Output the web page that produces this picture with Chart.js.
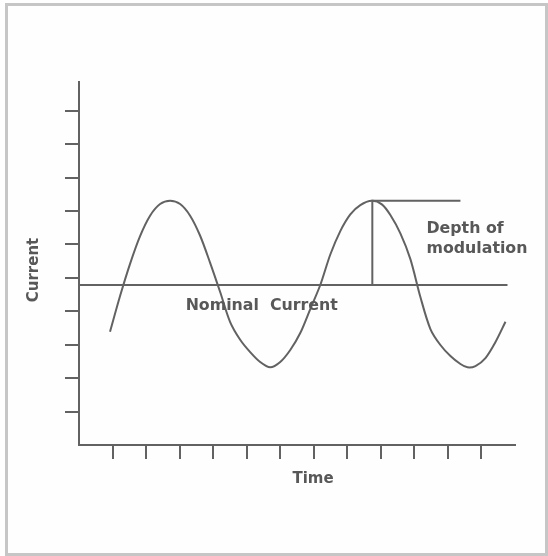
<!DOCTYPE html>
<html>
<head>
<meta charset="utf-8">
<script src="https://cdn.jsdelivr.net/npm/chart.js@4.4.1/dist/chart.umd.min.js"></script>
<style>
  html, body { margin: 0; padding: 0; background: #fefefe; }
  #frame { position: absolute; left: 5px; top: 3px; width: 543px; height: 553px;
           border: 3px solid #c6c6c6; box-sizing: border-box; background: #fefefe; }
  #wrap { position: absolute; left: 0; top: 0; width: 548px; height: 556px; }
</style>
</head>
<body>
<div id="frame"></div>
<div id="wrap"><canvas id="c" width="548" height="556"></canvas></div>
<script>
// ---- data (in axis units) ----
const xTickValues = [1, 2, 3, 4, 5, 6, 7, 8, 9, 10, 11, 12];
const yTickValues = [1, 2, 3, 4, 5, 6, 7, 8, 9, 10];
const waveX = [0.925, 1.224, 1.522, 1.821, 2.119, 2.418, 2.716, 3.015, 3.313, 3.612, 3.910, 4.209,
               4.507, 4.806, 5.104, 5.403, 5.701, 6.000, 6.299, 6.597, 6.896, 7.194,
               7.493, 7.791, 8.090, 8.388, 8.735, 9.030, 9.284, 9.582, 9.881, 10.179,
               10.478, 10.776, 11.075, 11.373, 11.582, 11.821, 12.119, 12.418, 12.716];
const waveY = [3.389, 4.457, 5.420, 6.250, 6.860, 7.209, 7.308, 7.209, 6.860, 6.260, 5.450, 4.577,
               3.679, 3.150, 2.780, 2.483, 2.324, 2.483, 2.842, 3.350, 4.068, 4.786,
               5.700, 6.400, 6.900, 7.179, 7.308, 7.200, 6.880, 6.330, 5.560, 4.427,
               3.470, 2.991, 2.662, 2.423, 2.324, 2.363, 2.602, 3.081, 3.688];
const nominalX = [0, 12.776];
const nominalY = [4.79, 4.79];
const depthX = [11.373, 8.746, 8.746];
const depthY = [7.31, 7.31, 4.79];
const xAxisTitle = 'Time';
const yAxisTitle = 'Current';
const nominalLabel = 'Nominal  Current';
const depthLabel = ['Depth of', 'modulation'];

const LINE = '#626262';
const TEXT = '#585858';

function pts(xs, ys) { return xs.map((x, i) => ({x: x, y: ys[i]})); }

const textPlugin = {
  id: 'texts',
  afterDraw(chart) {
    const ctx = chart.ctx;
    const xs = chart.scales.x, ys = chart.scales.y;
    ctx.save();
    ctx.fillStyle = TEXT;
    ctx.textBaseline = 'alphabetic';
    ctx.font = 'bold 15.8px "DejaVu Sans"';
    ctx.textAlign = 'left';
    ctx.fillText(nominalLabel, xs.getPixelForValue(3.18), ys.getPixelForValue(4.04));
    ctx.fillText(depthLabel[0], xs.getPixelForValue(10.36), ys.getPixelForValue(6.34));
    ctx.fillText(depthLabel[1], xs.getPixelForValue(10.36), ys.getPixelForValue(5.75));
    ctx.font = 'bold 15px "DejaVu Sans"';
    ctx.textAlign = 'center';
    ctx.fillText(xAxisTitle, 313, 483);
    ctx.translate(38, 270);
    ctx.rotate(-Math.PI / 2);
    ctx.fillText(yAxisTitle, 0, 0);
    ctx.restore();
  }
};

new Chart(document.getElementById('c'), {
  type: 'line',
  data: {
    datasets: [
      { data: pts(waveX, waveY), borderColor: LINE, borderWidth: 2, pointRadius: 0, tension: 0.3, fill: false },
      { data: pts(nominalX, nominalY), borderColor: LINE, borderWidth: 2, pointRadius: 0, tension: 0, fill: false },
      { data: pts(depthX, depthY), borderColor: LINE, borderWidth: 2, pointRadius: 0, tension: 0, fill: false }
    ]
  },
  options: {
    responsive: false,
    animation: false,
    devicePixelRatio: 1,
    layout: { padding: { left: 0, right: 33, top: 82, bottom: 0 } },
    plugins: { legend: { display: false }, tooltip: { enabled: false } },
    scales: {
      x: {
        type: 'linear', min: 0, max: 13,
        afterFit(s) { s.height = 111; },
        afterBuildTicks(s) { s.ticks = xTickValues.map(v => ({value: v})); },
        ticks: { display: false },
        grid: { drawOnChartArea: false, drawTicks: true, tickLength: 14, color: LINE, lineWidth: 2 },
        border: { display: true, color: LINE, width: 2 }
      },
      y: {
        type: 'linear', min: 0, max: 10.86,
        afterFit(s) { s.width = 79; },
        afterBuildTicks(s) { s.ticks = yTickValues.map(v => ({value: v})); },
        ticks: { display: false },
        grid: { drawOnChartArea: false, drawTicks: true, tickLength: 14, color: LINE, lineWidth: 2 },
        border: { display: true, color: LINE, width: 2 }
      }
    }
  },
  plugins: [textPlugin]
});
</script>
</body>
</html>
